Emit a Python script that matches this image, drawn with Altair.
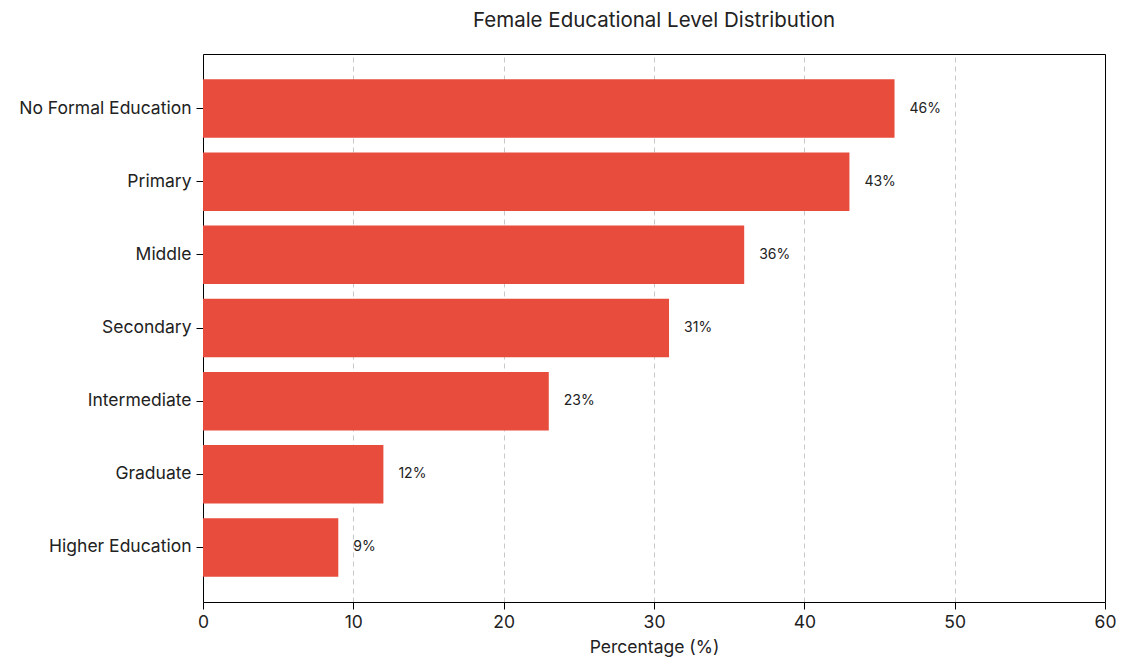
import altair as alt
import pandas as pd

categories = ["No Formal Education", "Primary", "Middle", "Secondary",
              "Intermediate", "Graduate", "Higher Education"]
values = [46, 43, 36, 31, 23, 12, 9]
labels = [f"{v}%" for v in values]

df = pd.DataFrame({"Level": categories, "Pct": values, "Label": labels})
FONT = "Inter"

xscale = alt.Scale(domain=[0, 60], nice=False)
yscale = alt.Scale(paddingInner=0.2, paddingOuter=0.345)

y = alt.Y("Level:N", sort=categories, title=None, scale=yscale,
          axis=alt.Axis(labelFontSize=17.5, labelColor="#222", labelFont=FONT,
                        tickSize=7, tickColor="#000", domain=True, domainColor="#000",
                        grid=False, labelPadding=5))
x = alt.X("Pct:Q", title="Percentage (%)", scale=xscale,
          axis=alt.Axis(values=[0, 10, 20, 30, 40, 50, 60], labelFontSize=17.5,
                        labelColor="#222", labelFont=FONT, titleFont=FONT,
                        titleFontSize=17.5, titleFontWeight="normal", titleColor="#222",
                        titlePadding=8, tickSize=7, tickColor="#000", domain=True,
                        domainColor="#000", labelFlush=False,
                        grid=True, gridDash=[5, 4], gridColor="#c8c8c8",
                        labelPadding=4))

bars = alt.Chart(df).mark_bar(color="#E74C3C").encode(x=x, y=y)
text = alt.Chart(df).mark_text(align="left", dx=15, fontSize=14, font=FONT,
                               color="#222").encode(
    x=alt.X("Pct:Q", scale=xscale, axis=None),
    y=alt.Y("Level:N", sort=categories, scale=yscale, axis=None),
    text="Label:N")
# frame: top and right spines via empty secondary axes
frame = alt.Chart(df).mark_point(opacity=0).encode(
    x=alt.X("Pct:Q", scale=xscale,
            axis=alt.Axis(orient="top", labels=False, ticks=False, grid=False,
                          domain=True, domainColor="#000", title=None)),
    y=alt.Y("Level:N", sort=categories, scale=yscale,
            axis=alt.Axis(orient="right", labels=False, ticks=False, grid=False,
                          domain=True, domainColor="#000", title=None)),
)

chart = alt.layer(bars, text, frame).resolve_axis(x="independent", y="independent").properties(
    width=902, height=548,
    title=alt.TitleParams("Female Educational Level Distribution", fontSize=20.5,
                          font=FONT, fontWeight="normal", color="#222",
                          anchor="middle", offset=23),
    padding={"left": 10, "top": 2, "right": 0, "bottom": 5},
).configure_view(stroke="#000000", strokeWidth=1).configure(background="white")

chart.save("out.html", embed_options={"renderer": "svg", "actions": False})
